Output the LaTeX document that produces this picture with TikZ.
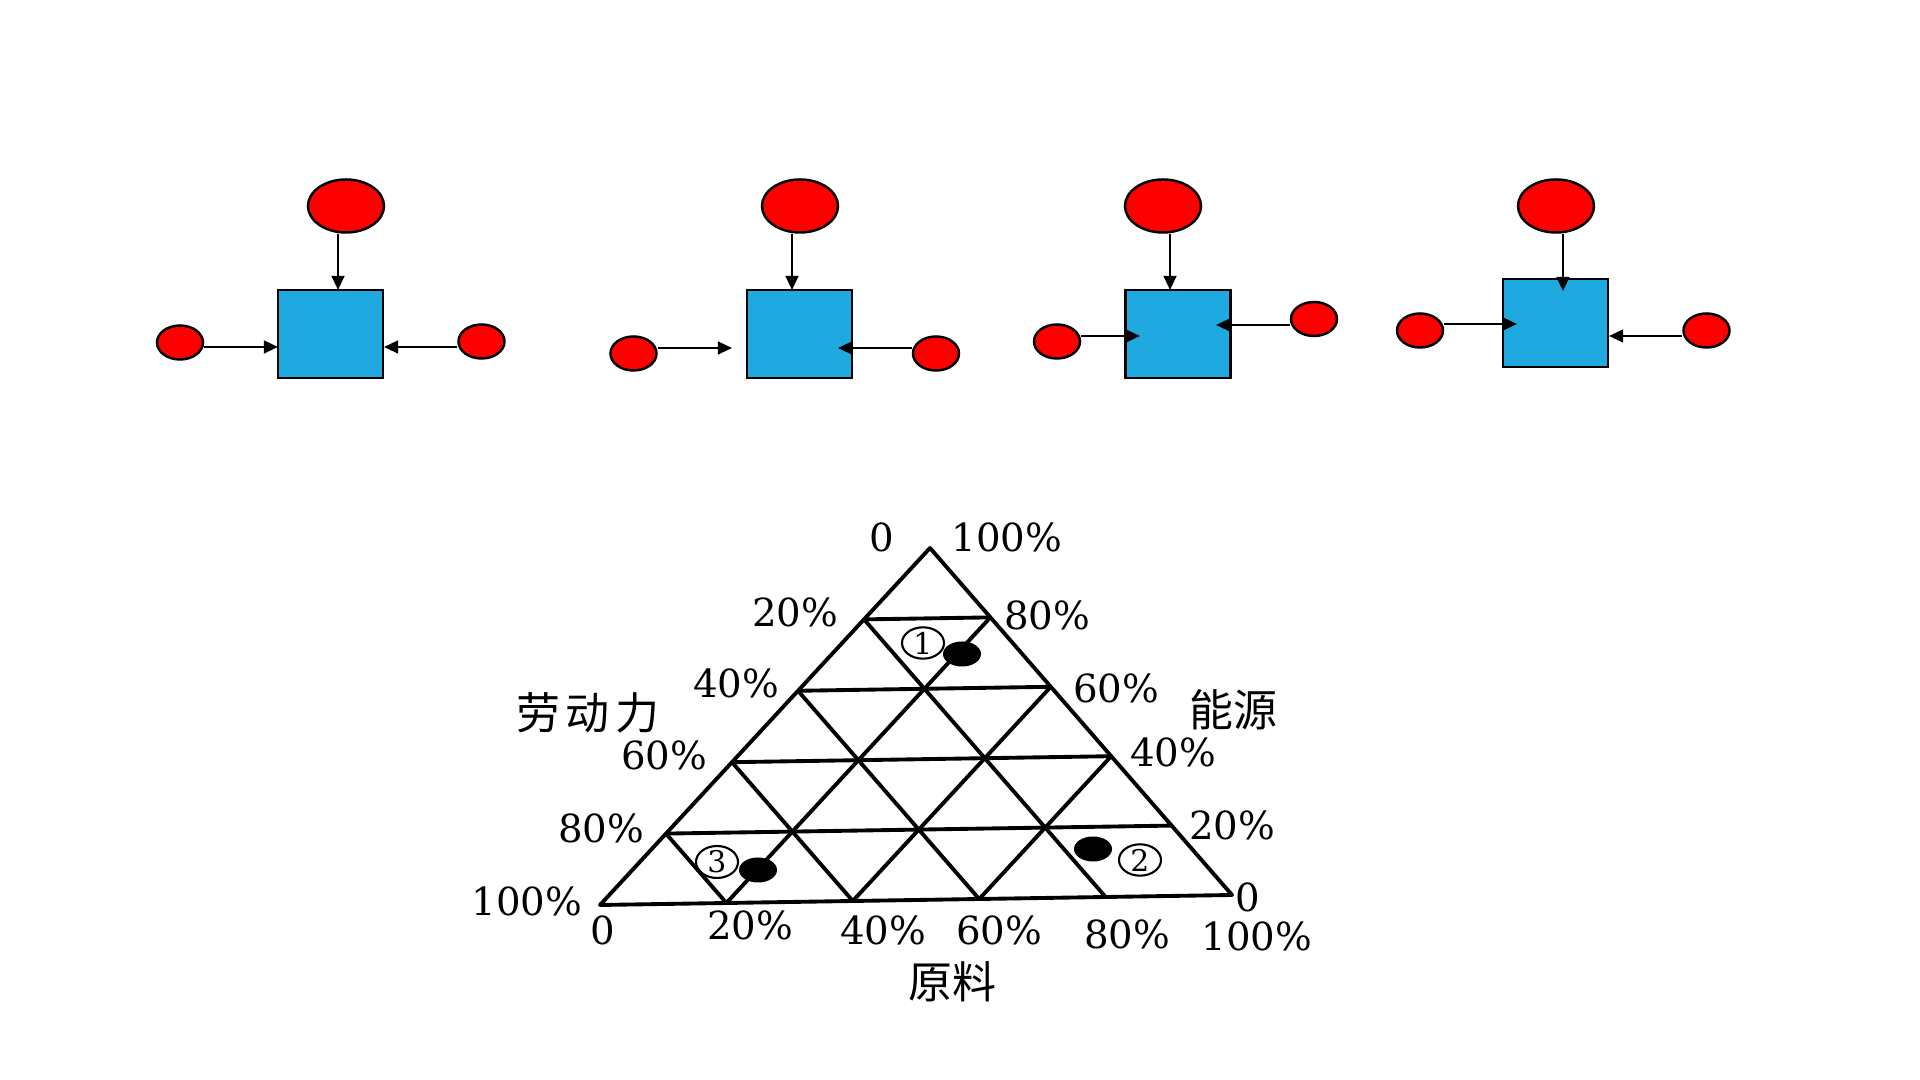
\documentclass[tikz,border=0pt]{standalone}
\usepackage{fontspec}
\newfontfamily\numfont{DejaVu Serif}
\newfontfamily\cjk{Noto Sans CJK SC}
\usetikzlibrary{shapes.geometric,arrows.meta,calc}
\definecolor{boxblue}{RGB}{31,169,225}
\definecolor{dotred}{RGB}{255,0,0}
\tikzset{
  bigdot/.style={ellipse,draw=black,line width=0.7pt,fill=dotred,minimum width=0.76cm,minimum height=0.53cm,inner sep=0pt},
  smalldot/.style={ellipse,draw=black,line width=0.7pt,fill=dotred,minimum width=0.46cm,minimum height=0.34cm,inner sep=0pt},
  factory/.style={rectangle,draw=black,line width=0.7pt,fill=boxblue,minimum width=1.05cm,minimum height=0.88cm,inner sep=0pt},
  arr/.style={line width=0.7pt,-{Triangle[length=4pt,width=3.6pt]}},
  grid/.style={line width=1.1pt,line join=round},
  lab/.style={font=\numfont\fontsize{11}{12}\selectfont,inner sep=0pt},
  clab/.style={font=\cjk\fontsize{12.5}{14}\selectfont,inner sep=0pt},
  site/.style={ellipse,fill=black,minimum width=0.38cm,minimum height=0.25cm,inner sep=0pt},
  sitelab/.style={ellipse,draw=black,line width=0.6pt,minimum width=0.42cm,minimum height=0.3cm,inner sep=0pt,font=\numfont\fontsize{8.5}{9}\selectfont}
}
\begin{document}
\begin{tikzpicture}[x=0.01cm,y=-0.01cm]
\useasboundingbox (0,0) rectangle (1920,1080);
% ---------- diagram 1
\node[bigdot] (t1) at (346,206) {};
\node[factory] (b1) at (330.5,334) {};
\node[smalldot] (l1) at (180,342.5) {};
\node[smalldot] (r1) at (481.5,341.5) {};
\coordinate (d1t) at (338,290);
\coordinate (d1l) at (278,347);
\coordinate (d1r) at (384,347);
\draw[arr] (t1.south -| d1t) -- (d1t);
\draw[arr] (l1.east |- d1l) -- (d1l);
\draw[arr] (r1.west |- d1r) -- (d1r);
% ---------- diagram 2
\node[bigdot] (t2) at (800,206) {};
\node[factory] (b2) at (799.5,334) {};
\node[smalldot] (l2) at (633.5,353.5) {};
\node[smalldot] (r2) at (936,353.5) {};
\coordinate (d2t) at (792,290);
\coordinate (d2l) at (732,348);
\coordinate (d2r) at (838,348);
\draw[arr] (t2.south -| d2t) -- (d2t);
\draw[arr] (l2.east |- d2l) -- (d2l);
\draw[arr] (r2.west |- d2r) -- (d2r);
% ---------- diagram 3
\node[bigdot] (t3) at (1163,206) {};
\node[factory] (b3) at (1178,334) {};
\node[smalldot] (l3) at (1057,341.5) {};
\node[smalldot] (r3) at (1314,319) {};
\coordinate (d3t) at (1170,290);
\coordinate (d3l) at (1140,336);
\coordinate (d3r) at (1216,325);
\draw[arr] (t3.south -| d3t) -- (d3t);
\draw[arr] (l3.east |- d3l) -- (d3l);
\draw[arr] (r3.west |- d3r) -- (d3r);
% ---------- diagram 4
\node[bigdot] (t4) at (1556,206) {};
\node[factory] (b4) at (1555.5,323) {};
\node[smalldot] (l4) at (1420,330.5) {};
\node[smalldot] (r4) at (1706.5,330.5) {};
\coordinate (d4t) at (1563,291);
\coordinate (d4l) at (1517,324);
\coordinate (d4r) at (1609,336);
\draw[arr] (t4.south -| d4t) -- (d4t);
\draw[arr] (l4.east |- d4l) -- (d4l);
\draw[arr] (r4.west |- d4r) -- (d4r);
% ---------- ternary triangle
\coordinate (A) at (600,905);
\coordinate (B) at (1232,895);
\coordinate (C) at (930,548);
\draw[grid] (A) -- (B) -- (C) -- cycle;
\foreach \u in {0.2,0.4,0.6,0.8}{
  \draw[grid] ($(A)!\u!(C)$) -- ($(B)!\u!(C)$);
  \draw[grid] ($(A)!\u!(B)$) -- ($(A)!\u!(C)$);
}
\foreach \u in {0.2,0.4,0.6}{
  \draw[grid] ($(A)!\u!(B)$) -- ($(C)!\u!(B)$);
}
% top labels
\node[lab] (n0t) at (882,537) {0};
\node[lab] (n100t) at (1007,537) {100\%};
% right side labels
\node[lab] (r80) at (1047,615) {80\%};
\node[lab] (r60) at (1116,688) {60\%};
\node[lab] (r40) at (1173,752) {40\%};
\node[lab] (r20) at (1232,825) {20\%};
\node[lab] (r0) at (1248,897) {0};
\node[clab] (energy) at (1233,710) {能源};
% left side labels
\node[lab] (l20) at (795,612) {20\%};
\node[lab] (l40) at (736,683) {40\%};
\node[lab] (l60) at (664,755) {60\%};
\node[lab] (l80) at (601,828) {80\%};
\node[lab] (l100) at (527,901) {100\%};
\node[clab] (labour) at (588,713) {劳\hspace{0.12em}动\hspace{0.12em}力};
% bottom labels
\node[lab] (b0) at (603,930) {0};
\node[lab] (b20) at (750,925) {20\%};
\node[lab] (b40) at (883,930) {40\%};
\node[lab] (b60) at (999,930) {60\%};
\node[lab] (b80) at (1127,934) {80\%};
\node[lab] (b100) at (1257,936) {100\%};
\node[clab] (raw) at (952,982) {原料};
% sites
\node[site] (s1) at (962,654) {};
\node[sitelab] (s1l) at (923,643) {1};
\node[site] (s2) at (1093,849) {};
\node[sitelab] (s2l) at (1140,860) {2};
\node[site] (s3) at (758,870) {};
\node[sitelab] (s3l) at (717,862) {3};
\end{tikzpicture}
\end{document}
